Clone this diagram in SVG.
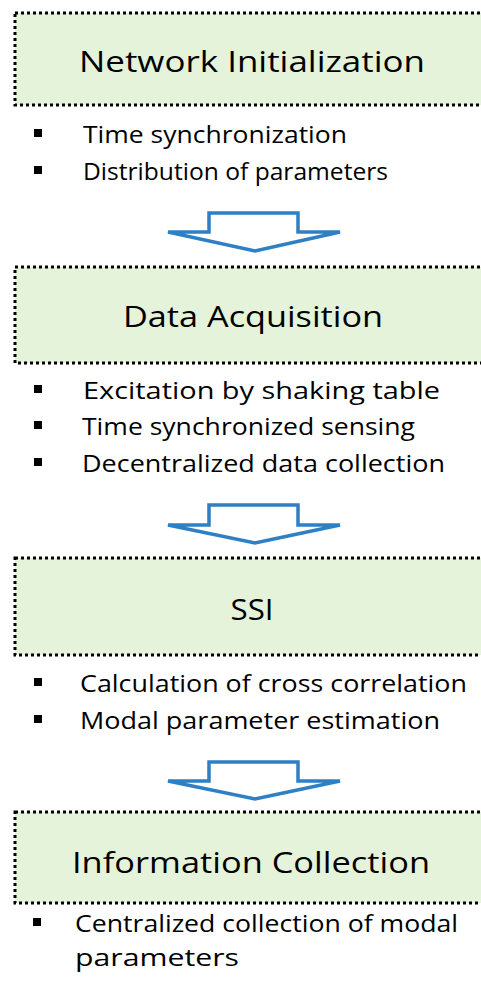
<svg xmlns="http://www.w3.org/2000/svg" width="481" height="989" viewBox="0 0 481 989">
<style>
.box{fill:#e5f3da;stroke:#000;stroke-width:3;stroke-dasharray:3 3}
.title{font-family:"Open Sans","Noto Sans","Liberation Sans",sans-serif;font-size:30px;fill:#000;text-anchor:middle}
.item{font-family:"Open Sans","Noto Sans","Liberation Sans",sans-serif;font-size:23.5px;fill:#000}
.bul{fill:#000}
.arrow{fill:#fff;stroke:#2e7fc4;stroke-width:3.5;stroke-linejoin:miter}
</style>
<rect width="481" height="989" fill="#fff"/>
<g id="node-network-initialization">
<rect class="box" x="15" y="13" width="480" height="92"/>
<text class="title" x="252" y="72" textLength="346" lengthAdjust="spacingAndGlyphs">Network Initialization</text>
<rect class="bul" x="34" y="129" width="8" height="8"/>
<text class="item" x="83" y="143" textLength="264" lengthAdjust="spacingAndGlyphs">Time synchronization</text>
<rect class="bul" x="34" y="166" width="8" height="8"/>
<text class="item" x="83" y="180" textLength="305" lengthAdjust="spacingAndGlyphs">Distribution of parameters</text>
</g>
<g id="node-data-acquisition">
<rect class="box" x="15" y="267" width="480" height="96"/>
<text class="title" x="253" y="327" textLength="260" lengthAdjust="spacingAndGlyphs">Data Acquisition</text>
<rect class="bul" x="34" y="385" width="8" height="8"/>
<text class="item" x="83" y="399" textLength="357" lengthAdjust="spacingAndGlyphs">Excitation by shaking table</text>
<rect class="bul" x="34" y="421" width="8" height="8"/>
<text class="item" x="82" y="435" textLength="333" lengthAdjust="spacingAndGlyphs">Time synchronized sensing</text>
<rect class="bul" x="34" y="458" width="8" height="8"/>
<text class="item" x="82" y="472" textLength="363" lengthAdjust="spacingAndGlyphs">Decentralized data collection</text>
</g>
<g id="node-ssi">
<rect class="box" x="15" y="558" width="480" height="97"/>
<text class="title" x="252" y="620" textLength="43" lengthAdjust="spacingAndGlyphs">SSI</text>
<rect class="bul" x="34" y="678" width="8" height="8"/>
<text class="item" x="80" y="692" textLength="387" lengthAdjust="spacingAndGlyphs">Calculation of cross correlation</text>
<rect class="bul" x="34" y="715" width="8" height="8"/>
<text class="item" x="80" y="729" textLength="360" lengthAdjust="spacingAndGlyphs">Modal parameter estimation</text>
</g>
<g id="node-information-collection">
<rect class="box" x="15" y="812" width="480" height="91"/>
<text class="title" x="251" y="873" textLength="358" lengthAdjust="spacingAndGlyphs">Information Collection</text>
<rect class="bul" x="33" y="918" width="8" height="8"/>
<text class="item" x="75" y="932" textLength="383" lengthAdjust="spacingAndGlyphs">Centralized collection of modal</text>
<text class="item" x="75" y="966" textLength="164" lengthAdjust="spacingAndGlyphs">parameters</text>
</g>
<g id="connectors">
<path class="arrow" d="M209,213 H298 V232 H340 L255,251 L168,232 H209 Z"/>
<path class="arrow" d="M209,505 H298 V525 H340 L255,543 L168,525 H209 Z"/>
<path class="arrow" d="M209,762 H298 V781 H340 L255,799 L168,781 H209 Z"/>
</g>
</svg>
